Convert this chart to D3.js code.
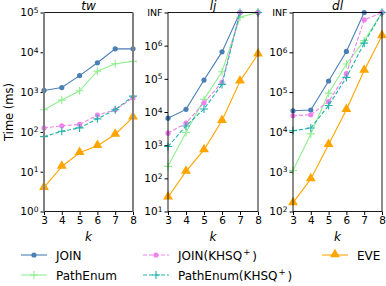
<!DOCTYPE html>
<html>
<head>
<meta charset="utf-8">
<script src="https://cdn.jsdelivr.net/npm/d3@7"></script>
<style>
  body { margin: 0; background: #fff; }
  svg { font-family: "DejaVu Sans", sans-serif; }
</style>
</head>
<body>
<svg id="chart" width="386" height="286"></svg>
<script>
// k values on the x axis
var ks = [3, 4, 5, 6, 7, 8];
var INF = 1e7;

// tw panel
var twJoin = [1100, 1300, 2600, 5450, 12200, 12200];
var twPath = [360, 630, 1080, 3350, 5150, 5900];
var twJoinK = [126, 142, 154, 264, 360, 720];
var twPathK = [76, 104, 126, 213, 360, 790];
var twEve = [4, 13.5, 30, 45, 86, 234];

// lj panel
var ljJoin = [6500, 12000, 92000, 650000, INF, INF];
var ljPath = [230, 2400, 24000, 163000, 7200000, INF];
var ljJoinK = [2300, 4600, 19000, 78000, INF, INF];
var ljPathK = [910, 3800, 12300, 68000, INF, INF];
var ljEve = [27, 162, 720, 5500, 85000, 550000];

// dl panel
var dlJoin = [34000, 35500, 190000, 1050000, INF, INF];
var dlPath = [1070, 8900, 94000, 510000, 1960000, INF];
var dlJoinK = [25500, 27000, 58000, 290000, 6500000, INF];
var dlPathK = [10700, 12500, 46000, 234000, 1700000, INF];
var dlEve = [165, 660, 4800, 36000, 350000, 2600000];

var seriesNames = ["JOIN", "PathEnum", "JOIN(KHSQ", "PathEnum(KHSQ", "EVE"];
var seriesSup = [false, false, true, true, false];
var styles = [
  { color: "#4a7fb5", marker: "circle", dash: null },
  { color: "#90ee90", marker: "plus", dash: null },
  { color: "#ee82ee", marker: "circle", dash: "4,2" },
  { color: "#20b2aa", marker: "plus", dash: "4,2" },
  { color: "#ffa500", marker: "tri", dash: null }
];

var panels = [
  { title: "tw", x0: 44, x1: 133, ymin: 1e0, ymax: 1e5, ticks: [0, 1, 2, 3, 4, 5], inf: false,
    data: [twJoin, twPath, twJoinK, twPathK, twEve], spine: "#808080" },
  { title: "lj", x0: 168, x1: 258, ymin: 1e1, ymax: 1e7, ticks: [1, 2, 3, 4, 5, 6], inf: true,
    data: [ljJoin, ljPath, ljJoinK, ljPathK, ljEve], spine: "#000" },
  { title: "dl", x0: 293, x1: 382, ymin: 1e2, ymax: 1e7, ticks: [2, 3, 4, 5, 6], inf: true,
    data: [dlJoin, dlPath, dlJoinK, dlPathK, dlEve], spine: "#000" }
];

var yTop = 12.5, yBottom = 211.5;
var svg = d3.select("#chart");

function drawMarker(g, type, color, cx, cy) {
  if (type === "circle") {
    g.append("circle").attr("cx", cx).attr("cy", cy).attr("r", 2.6).attr("fill", color);
  } else if (type === "plus") {
    var s = 4;
    g.append("path").attr("d", "M" + (cx - s) + "," + cy + "H" + (cx + s) + "M" + cx + "," + (cy - s) + "V" + (cy + s))
      .attr("stroke", color).attr("stroke-width", 1.1).attr("fill", "none");
  } else {
    var sym = d3.symbol().type(d3.symbolTriangle).size(42);
    g.append("path").attr("d", sym()).attr("transform", "translate(" + cx + "," + (cy - 0.5) + ")").attr("fill", color);
  }
}

panels.forEach(function (p) {
  var x = d3.scaleLinear().domain([3, 8]).range([p.x0, p.x1]);
  var y = d3.scaleLog().domain([p.ymin, p.ymax]).range([yBottom, yTop]);
  var g = svg.append("g");

  // axes
  var xAxis = d3.axisBottom(x).tickValues(ks).tickSize(3.5).tickPadding(2).tickFormat(d3.format("d"));
  var gx = g.append("g").attr("transform", "translate(0," + yBottom + ")").call(xAxis);
  gx.select(".domain").remove();
  gx.selectAll("text").attr("font-size", 10.5).attr("fill", "#000").attr("font-family", "DejaVu Sans");

  var tickVals = p.ticks.map(function (e) { return Math.pow(10, e); });
  if (p.inf) tickVals.push(INF);
  var yAxis = d3.axisLeft(y).tickValues(tickVals).tickSize(3.5).tickPadding(2).tickFormat(function () { return ""; });
  var gy = g.append("g").attr("transform", "translate(" + p.x0 + ",0)").call(yAxis);
  gy.select(".domain").remove();
  gy.selectAll(".tick text").each(function (d) {
    var t = d3.select(this).attr("font-size", 10.5).attr("fill", "#000").attr("font-family", "DejaVu Sans");
    if (p.inf && d === INF) {
      t.text("INF").attr("font-size", 9.5);
    } else {
      var e = Math.round(Math.log10(d));
      t.append("tspan").text("10");
      t.append("tspan").text(e).attr("font-size", 7.5).attr("dy", "-0.45em");
    }
  });

  // lines
  p.data.forEach(function (vals, i) {
    var st = styles[i];
    var pts = vals.map(function (v, j) { return [x(ks[j]), y(v)]; });
    g.append("path").attr("d", d3.line()(pts)).attr("fill", "none")
      .attr("stroke", st.color).attr("stroke-width", 1.1)
      .attr("stroke-dasharray", st.dash);
    pts.forEach(function (pt) { drawMarker(g, st.marker, st.color, pt[0], pt[1]); });
  });

  // spines
  var thin = p.spine === "#000" ? 0.9 : 2;
  g.append("line").attr("x1", p.x0).attr("x2", p.x1).attr("y1", yTop).attr("y2", yTop).attr("stroke", "#000").attr("stroke-width", 0.9);
  g.append("line").attr("x1", p.x0).attr("x2", p.x1).attr("y1", yBottom).attr("y2", yBottom).attr("stroke", "#000").attr("stroke-width", 0.9);
  g.append("line").attr("x1", p.x0).attr("x2", p.x0).attr("y1", yTop).attr("y2", yBottom).attr("stroke", p.spine).attr("stroke-width", thin);
  g.append("line").attr("x1", p.x1).attr("x2", p.x1).attr("y1", yTop).attr("y2", yBottom).attr("stroke", p.spine).attr("stroke-width", thin);

  // title and x label
  var cx = (p.x0 + p.x1) / 2;
  g.append("text").attr("x", cx).attr("y", 9.5).attr("text-anchor", "middle")
    .attr("font-size", 12).attr("font-style", "italic").text(p.title);
  g.append("text").attr("x", cx).attr("y", 241).attr("text-anchor", "middle")
    .attr("font-size", 12).attr("font-style", "italic").text("k");
});

svg.append("text").attr("transform", "translate(13,112) rotate(-90)").attr("text-anchor", "middle")
  .attr("font-size", 11.5).text("Time (ms)");

// legend
var legendPos = [[21, 255], [21, 275], [143, 255], [143, 275], [322, 255]];
seriesNames.forEach(function (name, i) {
  var st = styles[i];
  var lx = legendPos[i][0], ly = legendPos[i][1];
  var lg = svg.append("g");
  lg.append("line").attr("x1", lx).attr("x2", lx + 26).attr("y1", ly).attr("y2", ly)
    .attr("stroke", st.color).attr("stroke-width", 1.1).attr("stroke-dasharray", st.dash);
  drawMarker(lg, st.marker, st.color, lx + 13, ly);
  var t = lg.append("text").attr("x", lx + 35).attr("y", ly + 4.5).attr("font-size", 12).text(name);
  if (seriesSup[i]) {
    t.append("tspan").text("+").attr("font-size", 8.5).attr("dy", "-0.5em").attr("dx", "1");
    t.append("tspan").text(")").attr("dy", "0.45em").attr("dx", "2");
  }
});
</script>
</body>
</html>
